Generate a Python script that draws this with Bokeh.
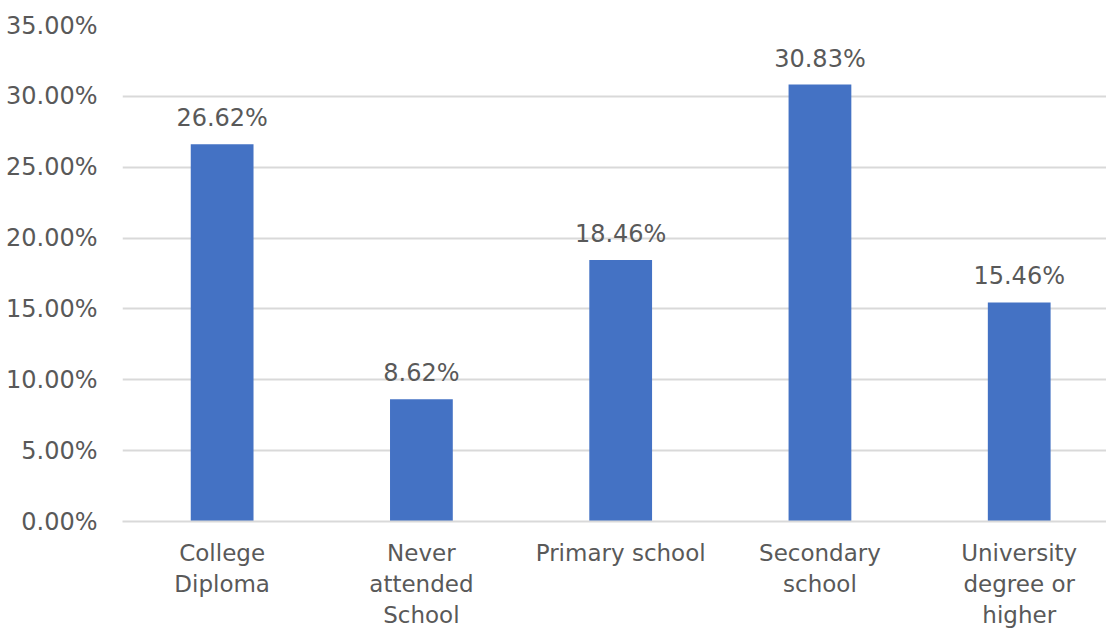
from bokeh.plotting import figure
from bokeh.models import ColumnDataSource, FixedTicker, LabelSet
from bokeh.core.properties import value
from bokeh.embed import file_html
from bokeh.resources import INLINE

categories = ["College\nDiploma", "Never\nattended\nSchool", "Primary school",
              "Secondary\nschool", "University\ndegree or\nhigher"]
values = [26.62, 8.62, 18.46, 30.83, 15.46]
y_ticks = [0, 5, 10, 15, 20, 25, 30, 35]

FONT = "DejaVu Sans"
TXT = "#595959"
FS = "24px"

xs = list(range(len(categories)))
src = ColumnDataSource(dict(x=xs, top=values,
                            label=[f"{v:.2f}%" for v in values]))

p = figure(width=1106, height=635, output_backend="svg", toolbar_location=None,
           x_range=(-0.5, 4.438), y_range=(0, 35),
           min_border_left=122, min_border_right=0, min_border_top=25,
           min_border_bottom=114)
p.outline_line_color = None
p.background_fill_color = "white"
p.border_fill_color = "white"

p.vbar(x="x", top="top", width=0.315, bottom=0, source=src,
       fill_color="#4472C4", line_color=None)

labels = LabelSet(x="x", y="top", text="label", source=src,
                  text_align="center", text_baseline="alphabetic",
                  y_offset=18, text_font=value(FONT), text_font_size=value(FS),
                  text_color=value(TXT))
p.add_layout(labels)

# y axis
p.yaxis.ticker = FixedTicker(ticks=y_ticks)
p.yaxis.major_label_overrides = {t: f"{t:.2f}%" for t in y_ticks}
p.yaxis.axis_line_color = None
p.yaxis.major_tick_line_color = None
p.yaxis.major_tick_out = 0
p.yaxis.major_tick_in = 0
p.yaxis.minor_tick_line_color = None
p.yaxis.major_label_standoff = 25
p.yaxis.major_label_text_font = FONT
p.yaxis.major_label_text_font_size = FS
p.yaxis.major_label_text_color = TXT

# x axis
p.xaxis.ticker = FixedTicker(ticks=xs)
p.xaxis.major_label_overrides = {i: c for i, c in zip(xs, categories)}
p.xaxis.axis_line_color = "#D9D9D9"
p.xaxis.axis_line_width = 2
p.xaxis.major_tick_line_color = None
p.xaxis.major_tick_out = 0
p.xaxis.major_tick_in = 0
p.xaxis.minor_tick_line_color = None
p.xaxis.major_label_standoff = 18
p.xaxis.major_label_text_font = FONT
p.xaxis.major_label_text_font_size = "23px"
p.xaxis.major_label_text_color = TXT

p.xgrid.grid_line_color = None
p.ygrid.ticker = FixedTicker(ticks=y_ticks)
p.ygrid.grid_line_color = "#D9D9D9"
p.ygrid.grid_line_width = 2

open("out.html", "w").write(file_html(p, INLINE))
